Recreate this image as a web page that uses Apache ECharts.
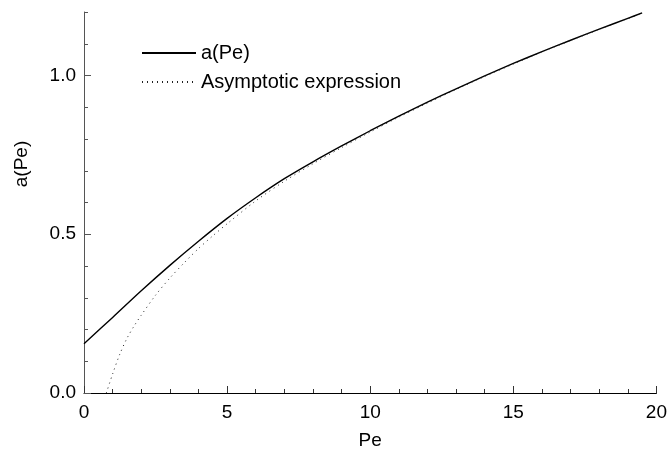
<!DOCTYPE html>
<html>
<head>
<meta charset="utf-8">
<script src="https://cdn.jsdelivr.net/npm/echarts@6/dist/echarts.min.js"></script>
<style>html,body{margin:0;padding:0;background:#fff}#c{width:670px;height:455px}</style>
</head>
<body>
<div id="c"></div>
<script>
// a(Pe) curve
var pe1 = [0, 1, 2, 3, 4, 5, 6, 7, 8, 9, 10, 11, 12, 13, 14, 15, 16, 17, 18, 19, 19.5];
var a1  = [0.155, 0.238, 0.322, 0.402, 0.478, 0.550, 0.615, 0.675, 0.728, 0.778, 0.826, 0.872, 0.916, 0.958, 0.999, 1.038, 1.075, 1.111, 1.146, 1.180, 1.197];
// Asymptotic expression
var pe2 = [0.78, 1.0, 1.25, 1.5, 1.75, 2.0, 2.5, 3.0, 3.5, 4.0, 4.5, 5.0, 6, 7, 8, 9, 10, 11, 12, 13, 14, 15, 16, 17, 18, 19, 19.5];
var a2  = [0.0, 0.06, 0.122, 0.172, 0.211, 0.245, 0.308, 0.362, 0.410, 0.455, 0.495, 0.533, 0.605, 0.667, 0.722, 0.773, 0.822, 0.869, 0.913, 0.956, 0.997, 1.036, 1.074, 1.110, 1.145, 1.179, 1.196];
var seriesNames = ['a(Pe)', 'Asymptotic expression'];
var xTickLabels = ['0', '5', '10', '15', '20'];
var yTickLabels = ['0.0', '0.5', '1.0'];

function pairs(xs, ys) { return xs.map(function (x, i) { return [x, ys[i]]; }); }

var FONT = 'Liberation Sans, Arial, sans-serif';
var chart = echarts.init(document.getElementById('c'), null, {renderer: 'canvas'});
chart.setOption({
  animation: false,
  backgroundColor: '#fff',
  grid: {left: 84, right: 12, top: 12, bottom: 62},
  legend: {
    orient: 'vertical', left: 141, top: 43, padding: 0,
    itemWidth: 54, itemHeight: 14, itemGap: 9,
    itemStyle: {color: 'transparent', borderColor: 'transparent', borderWidth: 0},
    textStyle: {fontFamily: FONT, fontSize: 20, color: '#000', lineHeight: 20},
    data: seriesNames
  },
  graphic: [{
    type: 'text', x: 12, y: 164, rotation: Math.PI / 2,
    style: {text: 'a(Pe)', font: '19px ' + FONT, fill: '#000', textAlign: 'center', textVerticalAlign: 'top'}
  }],
  xAxis: {
    type: 'value', min: 0, max: 20, interval: 5,
    name: 'Pe', nameLocation: 'middle', nameGap: 38,
    nameTextStyle: {fontFamily: FONT, fontSize: 19, color: '#000'},
    axisLine: {lineStyle: {color: '#000', width: 1}},
    axisTick: {inside: true, length: 7, lineStyle: {color: '#333'}},
    minorTick: {show: true, splitNumber: 5, length: 4, lineStyle: {color: '#333'}},
    splitLine: {show: false},
    axisLabel: {margin: 10, fontFamily: FONT, fontSize: 19, color: '#000',
      formatter: function (v) { var i = xTickLabels.indexOf(String(v)); return i >= 0 ? xTickLabels[i] : ''; }}
  },
  yAxis: [{
    type: 'value', min: 0, max: 1.2, interval: 0.5,
    axisLine: {show: true, lineStyle: {color: '#555', width: 1}},
    axisTick: {inside: true, length: 7, lineStyle: {color: '#555'}},
    splitLine: {show: false},
    axisLabel: {margin: 8, fontFamily: FONT, fontSize: 19, color: '#000', showMaxLabel: false,
      formatter: function (v) { var s = v.toFixed(1); return yTickLabels.indexOf(s) >= 0 ? s : ''; }}
  }, {
    type: 'value', min: 0, max: 1.2, interval: 0.1, position: 'left',
    axisLine: {show: false},
    axisTick: {show: true, inside: true, length: 4, lineStyle: {color: '#555'}},
    splitLine: {show: false},
    axisLabel: {show: false}
  }],
  series: [{
    name: seriesNames[0], type: 'line', data: pairs(pe1, a1), smooth: 0.3,
    symbol: 'none', showSymbol: false, yAxisIndex: 0,
    lineStyle: {color: '#000', width: 1.4}, itemStyle: {color: '#000'}
  }, {
    name: seriesNames[1], type: 'line', data: pairs(pe2, a2), smooth: 0.3,
    symbol: 'none', showSymbol: false, yAxisIndex: 0,
    lineStyle: {color: '#222', width: 1, type: [1, 4]}, itemStyle: {color: '#222'}
  }]
});
</script>
</body>
</html>
